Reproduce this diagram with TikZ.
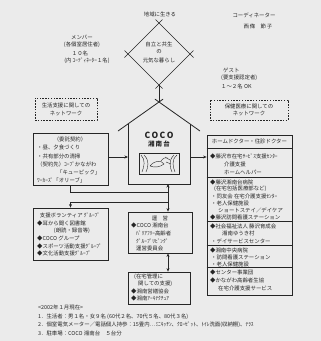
\documentclass[tikz,border=0pt]{standalone}
\usepackage{fontspec}
\setmainfont{Noto Sans CJK JP}
\usetikzlibrary{arrows.meta}
\definecolor{ink}{HTML}{262626}
\definecolor{paper}{HTML}{EBEBEB}
\begin{document}
\begin{tikzpicture}[x=1pt,y=-1pt,
  txt/.style={inner sep=0pt, font=\fontsize{5.4}{6}\selectfont, text=ink},
  lt/.style={txt, anchor=west},
  ct/.style={txt, anchor=center},
  boxn/.style={draw=ink, line width=0.8pt, inner sep=0pt},
  dbox/.style={draw=ink, line width=0.6pt, dash pattern=on 1.5pt off 1.3pt, inner sep=0pt},
  ln/.style={draw=ink, line width=0.7pt},
  arr/.style={ln, -{Stealth[length=3.5pt,width=3pt]}},
  darr/.style={ln, {Stealth[length=3.5pt,width=3pt]}-{Stealth[length=3.5pt,width=3pt]}},
]
\fill[paper] (0,0) rectangle (321,341);
\path[use as bounding box] (0,0) rectangle (321,341);

% ---------- top texts ----------
\node[ct] (chiiki) at (160,14) {地域に生きる};
\node[ct] (mem1) at (82,37) {メンバー};
\node[ct] (mem2) at (82,45) {(各個室居住者)};
\node[ct] (mem3) at (80,53) {１０名};
\node[ct] (mem4) at (87,61) {(内 ｺｰﾃﾞｨﾈｰﾀｰ１名)};
\node[ct] (coord1) at (254,15) {コーディネーター};
\node[ct] (coord2) at (258,26) {西\,條\quad 節\,子};
\node[lt] (guest1) at (223,70) {ゲスト};
\node[lt] (guest2) at (221,78) {(要支援認定者)};
\node[lt] (guest3) at (221,86) {１～２名 OK};

% ---------- diamond ----------
\draw[ln] (162.5,19.5) -- (124.5,57.5);
\draw[ln] (155.5,19.5) -- (193.5,57.5);
\draw[ln] (124.5,50.5) -- (162.5,88.5);
\draw[ln] (193.5,50.5) -- (155.5,88.5);
\node[ct] (d1) at (159,44) {自立と共生};
\node[ct] (d2) at (159,52) {の};
\node[ct] (d3) at (159,60) {元気な暮らし};
\draw[ln] (159,85) -- (159,102);

% ---------- house ----------
\draw[ln, line width=0.8pt] (118,131) -- (163.1,99.1);
\draw[ln, line width=0.8pt] (200,131) -- (154.9,99.1);
\draw[ln, line width=0.8pt] (128,124) -- (128,184) -- (190,184) -- (190,124);
\node[txt, font=\bfseries\fontsize{8.5}{9}\selectfont] (coco) at (159,135) {C\,O\,C\,O};
\node[txt, font=\bfseries\fontsize{6.5}{7}\selectfont] (shonan) at (159,144) {湘\,南\,台};
\draw[ln, line width=0.9pt] (139,153) rectangle (179,174);
\draw[ink, line width=0.4pt] (141,155) .. controls (146,160) and (144,167) .. (142,172);
\draw[ink, line width=0.4pt] (144,155) .. controls (150,161) and (148,167) .. (146,172);
\draw[ink, line width=0.4pt] (177,155) .. controls (171,160) and (173,167) .. (175,172);
\draw[ink, line width=0.4pt] (174,155) .. controls (168,161) and (170,167) .. (172,172);
\draw[ink, line width=0.4pt] (150,166) .. controls (155,160) and (161,160) .. (164,164) .. controls (160,167) and (155,168) .. (150,166);
\draw[ink, line width=0.4pt] (161,161) .. controls (163,158) and (166,157) .. (168,158);
\draw[ink, line width=0.4pt] (165,157) -- (170,160) (166,162) -- (171,164);
\coordinate (hl) at (128,157);
\coordinate (hr) at (190,157);
\coordinate (hb) at (168,184);
\coordinate (j1) at (168,192);
\coordinate (j2) at (168,202);

% ---------- dashed headers ----------
\node[dbox, minimum width=62pt, minimum height=22pt] (ldash) at (66,109) {};
\node[ct] at (66,105) {生活支援に関しての};
\node[ct] at (66,114) {ネットワーク};
\node[dbox, minimum width=78pt, minimum height=20pt] (rdash) at (249,110) {};
\node[ct] at (249,106) {保健医療に関しての};
\node[ct] at (249,114) {ネットワーク};

% ---------- left box ----------
\node[boxn, minimum width=75pt, minimum height=52pt] (lbox) at (70.5,159) {};
\node[ct] at (70,139) {（委託契約）};
\node[lt] at (37,147) {・昼、夕食づくり};
\node[lt] at (37,156) {・共有部分の清掃};
\node[lt] at (37,164) {（契約先）ｺｰﾌﾟかながわ};
\node[lt] at (57,172) {「キューピック」};
\node[lt] at (37,180) {ﾜｰｶｰｽﾞ「オリーブ」};

% ---------- right box ----------
\node[boxn, minimum width=85pt, minimum height=160pt] (rbox) at (249.5,215) {};
\foreach \yy in {148,177,221,245,267} \draw[ln] (rbox.west |- 0,\yy) -- (rbox.east |- 0,\yy);
\node[ct] at (249.5,141) {ホームドクター・往診ドクター};
\node[lt] at (210,156) {◆藤沢市在宅ｻｰﾋﾞｽ支援ｾﾝﾀｰ};
\node[lt] at (224,164) {介護支援};
\node[lt] at (224,172) {ホームヘルパー};
\node[lt] at (210,182) {◆藤沢湘南台病院};
\node[lt] at (214,189) {(在宅包括医療部など)};
\node[lt] at (211,196) {・同友会 在宅介護支援ｾﾝﾀｰ};
\node[lt] at (211,203) {・老人保健施設};
\node[lt] at (218,210) {ショートステイ／デイケア};
\node[lt] at (210,217) {◆藤沢訪問看護ステーション};
\node[lt] at (210,226) {◆社会福祉法人 藤沢育成会};
\node[lt] at (222,233) {湘南ゆうき村};
\node[lt] at (211,241) {・デイサービスセンター};
\node[lt] at (210,250) {◆湘南中央病院};
\node[lt] at (211,257) {・訪問看護ステーション};
\node[lt] at (211,264) {・老人保健施設};
\node[lt] at (210,272) {◆センター事業団};
\node[lt] at (210,280) {◆かながわ高齢者生協};
\node[lt] at (218,288) {在宅介護支援サービス};

% ---------- volunteer box ----------
\node[boxn, minimum width=75pt, minimum height=52pt] (vbox) at (70.5,234) {};
\node[ct] at (70,215) {支援ボランティア ｸﾞﾙｰﾌﾟ};
\node[lt] at (37,223) {◆耳から聞く図書館};
\node[ct] at (72,231) {(朗読・録音等)};
\node[lt] at (37,238) {◆COCO グループ};
\node[lt] at (37,246) {◆スポーツ活動支援ｸﾞﾙｰﾌﾟ};
\node[lt] at (37,253) {◆文化活動支援ｸﾞﾙｰﾌﾟ};

% ---------- management box ----------
\node[boxn, minimum width=64pt, minimum height=41pt] (unei) at (160,232.5) {};
\node[ct] at (160,218) {運\quad 営};
\node[lt] at (131,225) {◆COCO 湘南台};
\node[lt] at (136,233) {ﾊﾞﾘｱﾌﾘｰ高齢者};
\node[lt] at (136,241) {ｸﾞﾙｰﾌﾟﾘﾋﾞﾝｸﾞ};
\node[lt] at (136,248) {運営委員会};

% ---------- housing box ----------
\node[boxn, minimum width=62pt, minimum height=32pt] (zaitaku) at (159,288) {};
\node[lt] at (134,277) {(在宅管理に};
\node[lt] at (138,284) {関しての支援)};
\node[lt] at (131,291) {◆湘南営繕協会};
\node[lt] at (131,298) {◆湘南ｱｰｷﾃｸﾁｭｱ};

% ---------- connectors ----------
\draw[arr] (lbox.east |- hl) -- (hl);
\draw[arr] (hr) -- (rbox.west |- hr);
\draw[darr] (hb) -- (unei.north -| hb);
\draw[ln] (lbox.south) |- (j1);
\draw[arr] (j2) -| (vbox.north);
\draw[darr] (unei.south -| hb) -- (zaitaku.north -| hb);

% ---------- notes ----------
\node[lt] (n0) at (38,307) {<2002年１月現在>};
\node[lt] (n1) at (38,317) {1．生活者：男１名・女９名 (60代２名、70代５名、80代３名)};
\node[lt] (n2) at (38,325) {2．個室電気メーター／電話個人持参：15畳内…ﾐﾆｷｯﾁﾝ、ｸﾛｰｾﾞｯﾄ、ﾄｲﾚ洗面(収納棚)、ﾃﾗｽ};
\node[lt] (n3) at (38,333) {3．駐車場：COCO 湘南台　５台分};
\end{tikzpicture}
\end{document}
